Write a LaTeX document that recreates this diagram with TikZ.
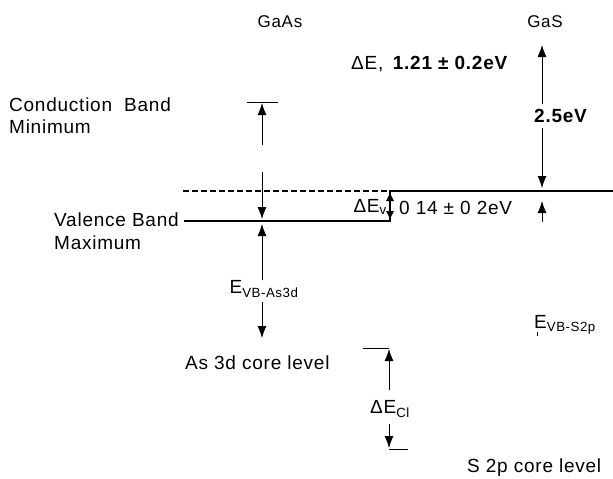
\documentclass[tikz,border=0pt]{standalone}
\usepackage{fontspec}
\setmainfont{Liberation Sans}[LetterSpace=4]
\usetikzlibrary{arrows.meta}
\tikzset{
  lbl/.style={font=\fontsize{19}{22}\selectfont, inner sep=1pt},
  ttl/.style={font=\fontsize{17}{20}\selectfont},
  arr/.style={thick, -{Latex[length=12pt,width=9pt]}},
  darr/.style={thick, {Latex[length=9pt,width=8pt]}-{Latex[length=9pt,width=8pt]}},
  band/.style={line width=2pt},
}
\begin{document}
\begin{tikzpicture}[x=1pt, y=-1pt, every node/.style={lbl}]
\useasboundingbox (0,0) rectangle (613,479);
% titles
\node[ttl] (gaas) at (280,22) {GaAs};
\node[ttl] (gas) at (545,22) {GaS};
% band edges
\draw[band, dash pattern=on 6pt off 3pt] (183,191) -- (390,191);
\draw[band] (184,221) -- (390,221) -- (390,191) -- (613,191);
\draw[thick] (247,102) -- (278,102);
% left labels
\node[anchor=west] (cbmtxt) at (8,105) {Conduction\ \ Band};
\node[anchor=west] (mintxt) at (8,127) {Minimum};
\node[anchor=west] (vbmtxt) at (53,220) {Valence Band};
\node[anchor=west] (maxtxt) at (53,243) {Maximum};
% GaAs gap arrows
\draw[arr] (262,145) -- (262,103);
\draw[arr] (262,172) -- (262,219);
% offsets
\node[anchor=west] (dec) at (350,64) {ΔE,\enspace\textbf{1.21 ± 0.2eV}};
\node[anchor=west, fill=white] (gap) at (533,116) {\textbf{2.5eV}};
\draw[arr] (542,104) -- (542,45);
\draw[arr] (542,128) -- (542,188);
\node[anchor=east] (dev) at (388,207) {ΔE\textsubscript{v}};
\draw[darr] (390,192) -- (390,220);
\node[anchor=west] (devval) at (398,208) {0 14 ± 0 2eV};
\draw[arr] (542,222) -- (542,201);
% core levels
\node (evbas) at (264,289) {E\textsubscript{VB-As3d}};
\draw[arr] (262,280) -- (262,224);
\draw[arr] (262,302) -- (262,338);
\node[anchor=west] (astxt) at (184,363) {As 3d core level};
\draw[thick] (363,348) -- (389,348);
\draw[arr] (389,390) -- (389,349);
\node (decl) at (390,409) {ΔE\textsubscript{Cl}};
\draw[arr] (389,424) -- (389,448);
\draw[thick] (389,449) -- (408,449);
\node[anchor=west] (evbs) at (533,325) {E\textsubscript{VB-S2p}};
\draw (537,332) -- (537,336);
\node[anchor=west] (stxt) at (466,468) {S 2p core level};
\end{tikzpicture}
\end{document}
